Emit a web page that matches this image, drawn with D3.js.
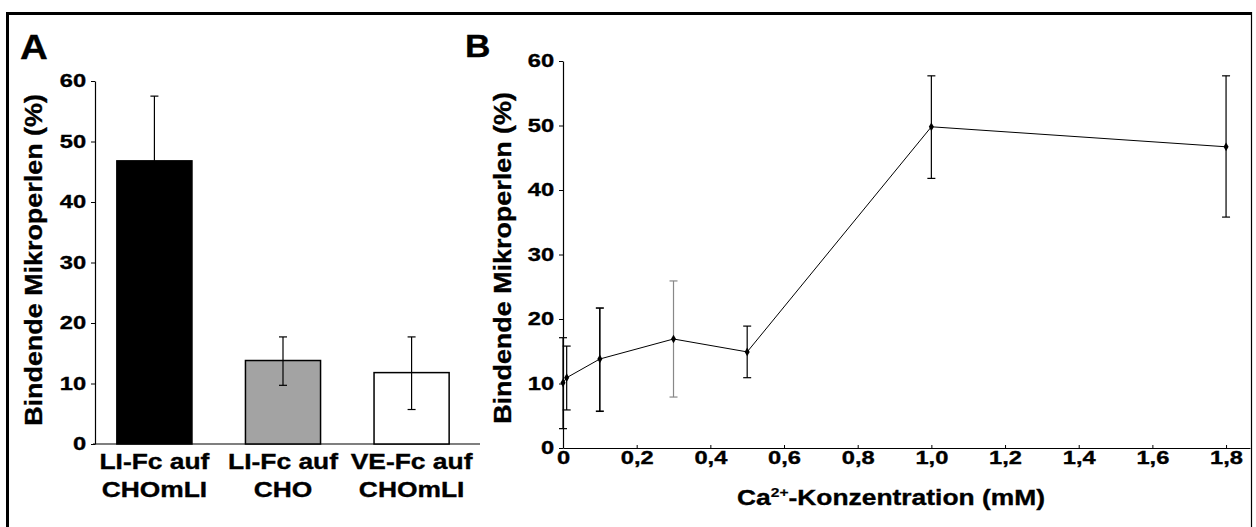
<!DOCTYPE html>
<html lang="de">
<head>
<meta charset="utf-8">
<title>Bindende Mikroperlen</title>
<script src="https://d3js.org/d3.v7.min.js"></script>
<style>
  body { margin: 0; background: #fff; }
  svg text { font-family: "Liberation Sans", Arial, Helvetica, sans-serif; font-weight: bold; fill: #000; stroke: #000; stroke-width: 0.35px; }
</style>
</head>
<body>
<script>
// Panel A data
const categoriesA = [["LI-Fc auf", "CHOmLI"], ["LI-Fc auf", "CHO"], ["VE-Fc auf", "CHOmLI"]];
const meansA = [46.8, 13.8, 11.8];
const errUpA = [57.5, 17.7, 17.7];
const errLoA = [46.8, 9.7, 5.7];
const barColors = ["#000000", "#a3a3a3", "#ffffff"];

// Panel B data
const concB = [0, 0.01, 0.1, 0.3, 0.5, 1.0, 1.8];
const meansB = [10.1, 10.9, 13.8, 16.9, 14.9, 49.8, 46.7];
const errUpB = [17.1, 15.8, 21.7, 25.9, 18.9, 57.7, 57.7];
const errLoB = [3.0, 5.9, 5.7, 7.9, 10.9, 41.8, 35.8];
const errColorB = ["#000", "#000", "#000", "#888", "#000", "#000", "#000"];

const yTicks = [0, 10, 20, 30, 40, 50, 60];
const xTicksB = [0, 0.2, 0.4, 0.6, 0.8, 1.0, 1.2, 1.4, 1.6, 1.8];

const W = 1256, H = 527;
const SX = "scale(1.2,1)";   // the original lettering is set wide
const svg = d3.select("body").append("svg").attr("width", W).attr("height", H);

// frame
svg.append("line").attr("x1", 6).attr("x2", 1252).attr("y1", 13.5).attr("y2", 13.5).attr("stroke", "#000").attr("stroke-width", 3);
svg.append("line").attr("x1", 7.5).attr("x2", 7.5).attr("y1", 12).attr("y2", H).attr("stroke", "#000").attr("stroke-width", 3);
svg.append("line").attr("x1", 1251.5).attr("x2", 1251.5).attr("y1", 12).attr("y2", H).attr("stroke", "#000").attr("stroke-width", 1.2);

function styleAxis(g) {
  g.selectAll("text").style("font-size", "18.5px").attr("transform", "scale(1.28,1)");
  g.select(".domain").attr("stroke-width", 1.2);
}

// ---------- Panel A ----------
const xA = d3.scaleBand().domain(d3.range(meansA.length)).range([95, 471]).paddingInner(0.416).paddingOuter(0.17);
const yA = d3.scaleLinear().domain([0, 60]).range([444, 81]);

svg.append("g").attr("transform", "translate(95,0)")
  .call(d3.axisLeft(yA).tickValues(yTicks).tickSize(4).tickSizeOuter(0).tickPadding(3))
  .call(styleAxis);

svg.append("line").attr("x1", 93).attr("x2", 480).attr("y1", yA(0)).attr("y2", yA(0)).attr("stroke", "#000").attr("stroke-width", 1.2);

svg.selectAll("rect.bar").data(meansA).enter().append("rect").attr("class", "bar")
  .attr("x", (d, i) => xA(i)).attr("width", xA.bandwidth())
  .attr("y", d => yA(d)).attr("height", d => yA(0) - yA(d))
  .attr("fill", (d, i) => barColors[i]).attr("stroke", "#000").attr("stroke-width", 1.5);

const cap = 4;
meansA.forEach((d, i) => {
  const cx = xA(i) + xA.bandwidth() / 2;
  const g = svg.append("g").attr("stroke", "#000").attr("stroke-width", 1.2);
  g.append("line").attr("x1", cx).attr("x2", cx).attr("y1", yA(errUpA[i])).attr("y2", yA(errLoA[i]));
  g.append("line").attr("x1", cx - cap).attr("x2", cx + cap).attr("y1", yA(errUpA[i])).attr("y2", yA(errUpA[i]));
  if (errLoA[i] !== d)
    g.append("line").attr("x1", cx - cap).attr("x2", cx + cap).attr("y1", yA(errLoA[i])).attr("y2", yA(errLoA[i]));
});

categoriesA.forEach((lines, i) => {
  const t = svg.append("g").attr("transform", "translate(" + (xA(i) + xA.bandwidth() / 2) + ",469)")
    .append("text").attr("transform", SX).attr("text-anchor", "middle").style("font-size", "22px");
  lines.forEach((s, j) => t.append("tspan").attr("x", 0).attr("y", j * 28).text(s));
});

svg.append("text").attr("transform", "translate(42,260) rotate(-90) scale(1.17,1)").attr("text-anchor", "middle")
  .style("font-size", "23px").text("Bindende Mikroperlen (%)");
svg.append("text").attr("transform", "translate(20,59) scale(1.1,1)").style("font-size", "35px").text("A");

// ---------- Panel B ----------
const xB = d3.scaleLinear().domain([0, 1.865]).range([563, 1250]);
const yB = d3.scaleLinear().domain([0, 60]).range([448, 61]);

svg.append("g").attr("transform", "translate(563,0)")
  .call(d3.axisLeft(yB).tickValues(yTicks).tickSize(4).tickSizeOuter(0).tickPadding(3))
  .call(styleAxis);

svg.append("g").attr("transform", "translate(0," + yB(0) + ")")
  .call(d3.axisBottom(xB).tickValues(xTicksB).tickSize(-3).tickSizeOuter(0).tickPadding(3)
    .tickFormat(d => d === 0 ? "0" : d.toFixed(1).replace(".", ",")))
  .call(styleAxis);

const ptsB = concB.map((c, i) => [c, meansB[i]]);
svg.append("path").datum(ptsB)
  .attr("d", d3.line().x(d => xB(d[0])).y(d => yB(d[1])))
  .attr("fill", "none").attr("stroke", "#000").attr("stroke-width", 1);

concB.forEach((c, i) => {
  const cx = xB(c);
  const g = svg.append("g").attr("stroke", errColorB[i]).attr("stroke-width", i === 2 ? 1.6 : 1.2);
  g.append("line").attr("x1", cx).attr("x2", cx).attr("y1", yB(errUpB[i])).attr("y2", yB(errLoB[i]));
  g.append("line").attr("x1", cx - cap).attr("x2", cx + cap).attr("y1", yB(errUpB[i])).attr("y2", yB(errUpB[i]));
  g.append("line").attr("x1", cx - cap).attr("x2", cx + cap).attr("y1", yB(errLoB[i])).attr("y2", yB(errLoB[i]));
});

svg.selectAll("path.mk").data(ptsB).enter().append("path").attr("class", "mk")
  .attr("transform", d => "translate(" + xB(d[0]) + "," + yB(d[1]) + ")")
  .attr("d", d3.symbol().type(d3.symbolDiamond).size(22)).attr("fill", "#000");

const xt = svg.append("g").attr("transform", "translate(891,505)")
  .append("text").attr("transform", SX).attr("text-anchor", "middle").style("font-size", "22px");
xt.append("tspan").text("Ca");
xt.append("tspan").attr("dy", -8).style("font-size", "13px").style("stroke-width", "0.2px").text("2+");
xt.append("tspan").attr("dy", 8).text("-Konzentration (mM)");

svg.append("text").attr("transform", "translate(511,258) rotate(-90) scale(1.17,1)").attr("text-anchor", "middle")
  .style("font-size", "23px").text("Bindende Mikroperlen (%)");
svg.append("text").attr("transform", "translate(465,57) scale(1.1,1)").style("font-size", "32px").text("B");
</script>
</body>
</html>
